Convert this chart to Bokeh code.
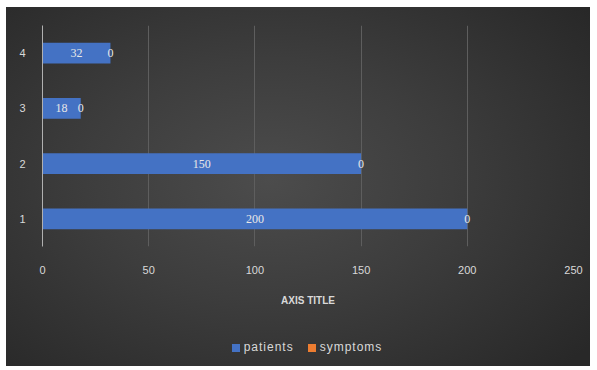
from bokeh.plotting import figure
from bokeh.layouts import column
from bokeh.models import ColumnDataSource, LabelSet, FixedTicker, Range1d, Div
from bokeh.embed import file_html
from bokeh.resources import INLINE

categories = [1, 2, 3, 4]
patients = [200, 150, 18, 32]
symptoms = [0, 0, 0, 0]
x_ticks = [0, 50, 100, 150, 200, 250]
series_names = ["patients", "symptoms"]

TXT = "#d9d9d9"
BLUE = "#4472c4"
ORANGE = "#ed7d31"
GRADIENT = "radial-gradient(ellipse 70% 75% at 45% 48%, #4c4c4c 0%, #3d3d3d 45%, #282828 100%)"

ends = [p + s for p, s in zip(patients, symptoms)]
src = ColumnDataSource(dict(
    cat=categories,
    patients=patients,
    symptoms=symptoms,
    ends=ends,
    p_mid=[p / 2 for p in patients],
    s_mid=[p + s / 2 for p, s in zip(patients, symptoms)],
    p_lab=[str(v) for v in patients],
    s_lab=[str(v) for v in symptoms],
))

p = figure(width=584, height=323, output_backend="svg", toolbar_location=None,
           x_range=Range1d(0, 250), y_range=Range1d(0.5, 4.5),
           min_border_left=36, min_border_right=17, min_border_top=18, min_border_bottom=84)
p.background_fill_alpha = 0
p.border_fill_alpha = 0
p.outline_line_color = None
p.outline_line_alpha = 0

r1 = p.hbar(y="cat", left=0, right="patients", height=0.38, source=src,
            fill_color=BLUE, line_color=None)
r2 = p.hbar(y="cat", left="patients", right="ends", height=0.38, source=src,
            fill_color=ORANGE, line_color=None)

p.add_layout(LabelSet(x="p_mid", y="cat", text="p_lab", source=src, text_align="center",
                      text_baseline="middle", text_color="#e8e8e8", text_font_size="12px",
                      text_font="Liberation Sans"))
p.add_layout(LabelSet(x="s_mid", y="cat", text="s_lab", source=src, text_align="center",
                      text_baseline="middle", text_color="#e8e8e8", text_font_size="12px",
                      text_font="Liberation Sans"))

# x axis
p.xaxis.ticker = FixedTicker(ticks=x_ticks)
p.xaxis.axis_line_color = None
p.xaxis.axis_line_alpha = 0
p.xaxis.major_tick_line_color = None
p.xaxis.minor_tick_line_color = None
p.xaxis.major_label_text_color = TXT
p.xaxis.major_label_text_font_size = "11px"
p.xaxis.major_label_text_font = "Liberation Sans"
p.xaxis.major_label_standoff = 13
p.xaxis.axis_label = "AXIS TITLE"
p.xaxis.axis_label_text_color = TXT
p.xaxis.axis_label_text_font_size = "10px"
p.xaxis.axis_label_text_font_style = "bold"
p.xaxis.axis_label_text_font = "Liberation Sans"
p.xaxis.axis_label_standoff = 18

# y axis
p.yaxis.ticker = FixedTicker(ticks=categories)
p.yaxis.axis_line_color = "#b0b0b0"
p.yaxis.major_tick_line_color = None
p.yaxis.minor_tick_line_color = None
p.yaxis.major_label_text_color = TXT
p.yaxis.major_label_text_font_size = "11px"
p.yaxis.major_label_text_font = "Liberation Sans"
p.yaxis.major_label_standoff = 11

p.ygrid.grid_line_color = None
p.xgrid.grid_line_color = "#5e5e5e"
p.xgrid.ticker = FixedTicker(ticks=x_ticks[1:])

# legend strip below the chart
def swatch(color, name):
    return (f'<span style="display:inline-flex;align-items:center;margin:0 7px;">'
            f'<span style="display:inline-block;width:8px;height:8px;background:{color};'
            f'margin-right:4px;"></span>{name}</span>')

legend_html = (f'<div style="box-sizing:border-box;display:flex;justify-content:center;'
               f'align-items:center;width:584px;height:36px;padding-left:18px;'
               f'font-family:\'Liberation Sans\';font-size:12px;letter-spacing:1px;color:{TXT};">'
               f'{swatch(BLUE, series_names[0])}{swatch(ORANGE, series_names[1])}</div>')
leg = Div(text=legend_html, width=584, height=36, margin=0)

layout = column(p, leg, spacing=0, margin=(7, 0, 0, 6),
                styles={"background": GRADIENT})
open("out.html", "w").write(file_html(layout, INLINE))
